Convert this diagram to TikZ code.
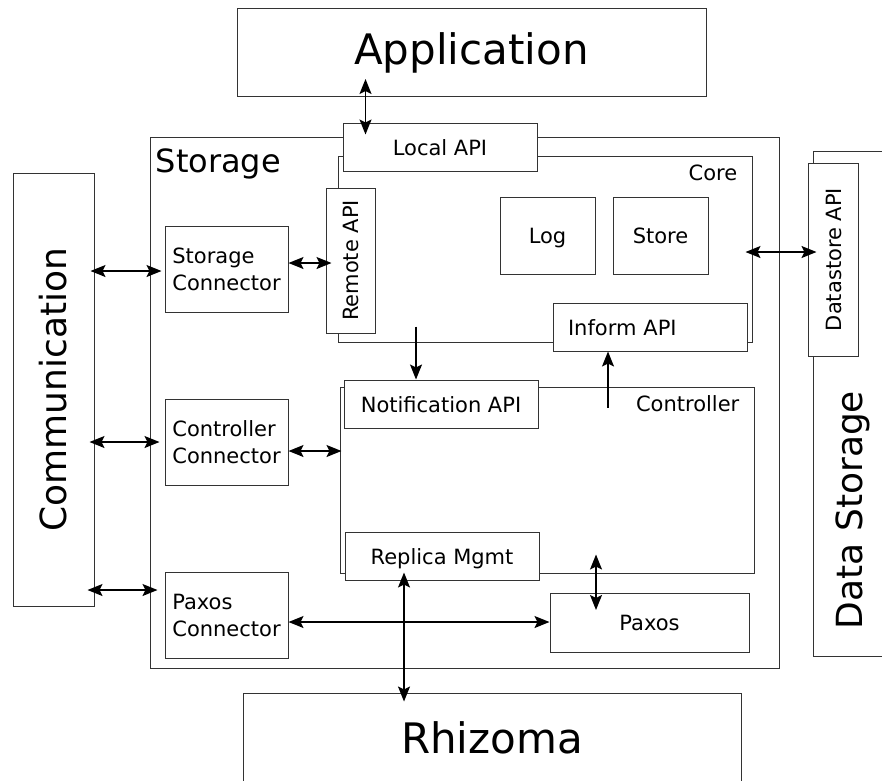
\documentclass[tikz,border=0pt]{standalone}
\usepackage{fontspec}
\setmainfont{DejaVu Sans}
\usetikzlibrary{arrows.meta,calc}
\newcommand\szN{\fontsize{21}{27}\selectfont}
\newcommand\szB{\fontsize{32}{38}\selectfont}
\newcommand\szC{\fontsize{36}{42}\selectfont}
\newcommand\szA{\fontsize{42}{50}\selectfont}
\begin{document}
\begin{tikzpicture}[x=1pt,y=-1pt,
  box/.style={draw=black!80, line width=1pt, fill=white, inner sep=0pt},
  one/.style={font=\szN, text height=16pt, text depth=0pt},
  two/.style={font=\szN, align=left},
  link/.style={draw=black, line width=1.4pt},
  >={Stealth[length=15pt,width=12pt,inset=3pt]}]

\useasboundingbox (0,0) rectangle (882,780);
\clip (0,0) rectangle (882,780);

% outer components
\node[box, minimum width=629pt, minimum height=531pt] (storage) at (464.5,402.5) {};
\node[box, rotate=90, minimum width=433pt, minimum height=81pt,
      font=\szC, text height=26pt, text depth=-3pt] (comm) at (53.5,389.5) {Communication};
\node[box, minimum width=200pt, minimum height=505pt] (dstore) at (913,403.5) {};
\node[rotate=90, anchor=base, font=\szC, inner sep=0pt] (dslabel)
      at ($(dstore.west)+(50,106.5)$) {Data Storage};
\node[box, minimum width=469pt, minimum height=88pt,
      font=\szA, text height=30pt, text depth=6pt] (app) at (471.5,52.5) {Application};
\node[box, minimum width=498pt, minimum height=90pt,
      font=\szA, text height=30pt, text depth=0pt] (rhiz) at (492,738) {Rhizoma};

% core
\node[box, minimum width=414pt, minimum height=186pt] (core) at (545,249) {};
\node[box, one, minimum width=95pt, minimum height=77pt] (log) at (547.5,235.5) {Log};
\node[box, one, minimum width=95pt, minimum height=77pt] (store) at (660.5,235.5) {Store};
\node[box, one, minimum width=194pt, minimum height=48pt] (lapi) at (440,147) {Local API};
\node[box, one, rotate=90, minimum width=145pt, minimum height=49pt] (rapi) at (350.5,260.5) {Remote API};
\node[box, one, minimum height=48pt, text width=164pt, inner xsep=15pt, align=left] (iapi)
      at (650,327) {Inform API};
\node[box, one, rotate=90, minimum width=193pt, minimum height=50pt] (dsapi) at (833,259.5) {Datastore API};

% controller
\node[box, minimum width=414pt, minimum height=186pt] (ctrl) at (547,480) {};
\node[box, one, minimum width=194pt, minimum height=48pt] (napi) at (441,404) {Notification API};
\node[box, one, minimum width=194pt, minimum height=48pt] (rmgmt) at (442,556) {Replica Mgmt};

% connectors and paxos
\node[box, two, minimum width=123pt, minimum height=86pt] (sconn) at (226.5,269) {Storage\\Connector};
\node[box, two, minimum width=123pt, minimum height=86pt] (cconn) at (226.5,442) {Controller\\Connector};
\node[box, two, minimum width=123pt, minimum height=86pt] (pconn) at (226.5,615) {Paxos\\Connector};
\node[box, one, minimum width=199pt, minimum height=59pt] (paxos) at (649.5,622.5) {Paxos};

% titles
\node[anchor=base west, font=\szB, inner sep=0pt] (stlabel) at ($(storage.north west)+(6,36)$) {Storage};
\node[anchor=base east, font=\szN, inner sep=0pt] (corelabel) at ($(core.north east)+(-15,25)$) {Core};
\node[anchor=base east, font=\szN, inner sep=0pt] (ctrllabel) at ($(ctrl.north east)+(-15,25)$) {Controller};

% links
\draw[link, <->] ($(app.south -| lapi.west)+(23,-18)$) -- ($(lapi.north west)+(23,12)$);
\draw[link, <->] ($(sconn.west -| comm.south)+(-4,2)$) -- ($(sconn.west)+(-3,2)$);
\draw[link, <->] ($(cconn.west -| comm.south)+(-5,0)$) -- ($(cconn.west)+(-5,0)$);
\draw[link, <->] ($(pconn.west -| comm.south)+(-7,-25)$) -- ($(pconn.west)+(-7,-25)$);
\draw[link, <->] ($(sconn.east)+(0,-6)$) -- ($(sconn.east -| rapi.north)+(6,-6)$);
\draw[link, <->] ($(cconn.east)+(0,9)$) -- ($(cconn.east -| ctrl.west)+(2,9)$);
\draw[link, <->] ($(pconn.east)+(0,7)$) -- ($(pconn.east -| paxos.west)+(0,7)$);
\coordinate (coreout) at ($(core.south -| napi.north)+(-25,-16)$);
\draw[link, ->] (coreout) -- ($(napi.north)+(-25,0)$);
\coordinate (ctrlout) at ($(iapi.south)+(-42,56)$);
\draw[link, ->] (ctrlout) -- ($(iapi.south)+(-42,0)$);
\draw[link, <->] ($(core.east)+(-7,3)$) -- ($(dsapi.north)+(9,-7.5)$);
\draw[link, <->] ($(rmgmt.south)+(-38,-8)$) -- ($(rhiz.north)+(-88,9)$);
\draw[link, <->] ($(ctrl.south)+(49,-19)$) -- ($(paxos.north)+(-53.5,17.5)$);
\end{tikzpicture}
\end{document}
